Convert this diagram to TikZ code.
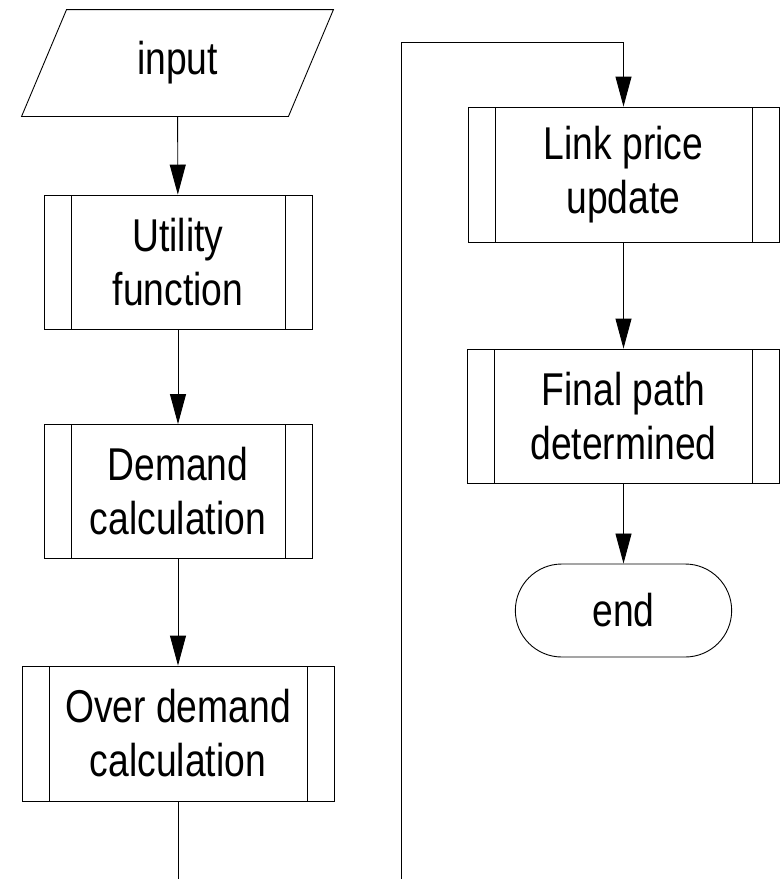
\documentclass[tikz,border=0pt]{standalone}
\usepackage{fontspec}
\setmainfont{Liberation Sans}[FakeStretch=0.81]
\usepackage{tikz}
\usetikzlibrary{
	positioning,
	arrows.meta,
	shapes.misc
}

\begin{document}
\begin{tikzpicture}[x=1pt,y=-1pt,
		font=\fontsize{46}{54}\selectfont,
		line width=0.9pt,
		subproc/.style={draw,rectangle,minimum width=268pt,minimum height=134pt,align=center,inner sep=0pt,
			path picture={
				\draw ([xshift=27pt]path picture bounding box.north west) -- ([xshift=27pt]path picture bounding box.south west);
				\draw ([xshift=-27pt]path picture bounding box.north east) -- ([xshift=-27pt]path picture bounding box.south east);
			}},
		flow/.style={-{Triangle[length=30pt,width=16pt]}}
	]
			
			\useasboundingbox (0,0) rectangle (780,879);
			
			\node[minimum width=266pt,minimum height=106pt,inner sep=0pt] (input) at (177.5,63) {input};
			\draw ([xshift=22.5pt]input.north west) -- ([xshift=22.5pt]input.north east)
				-- ([xshift=-22.5pt]input.south east) -- ([xshift=-22.5pt]input.south west) -- cycle;
			
			\node[subproc] (util) at (178,262) {Utility\\function};
			\node[subproc] (demand) at (178,491.5) {Demand\\calculation};
			\node[subproc,minimum width=312pt,minimum height=135pt] (over) at (178,733.5) {Over demand\\calculation};
			
			\node[subproc,minimum width=311pt,minimum height=135pt] (link) at (623.5,174.5) {Link price\\update};
			\node[subproc,minimum width=312pt] (final) at (623.5,416) {Final path\\determined};
			\node[draw,rounded rectangle,minimum width=223pt,minimum height=93pt] (stop) at (623.5,610.5) {end};
			
			\coordinate (bot) at (178,879);
			\coordinate (loopb) at (401,879);
			\coordinate (looptop) at (623.5,42);
			
			\draw[flow] (input) -- (util);
			\draw[flow] (util) -- (demand);
			\draw[flow] (demand) -- (over);
			\draw (over) -- (bot);
			\draw[flow] (loopb) |- (looptop) -- (link);
			\draw[flow] (link) -- (final);
			\draw[flow] (final) -- (stop);
			
		\end{tikzpicture}
\end{document}
